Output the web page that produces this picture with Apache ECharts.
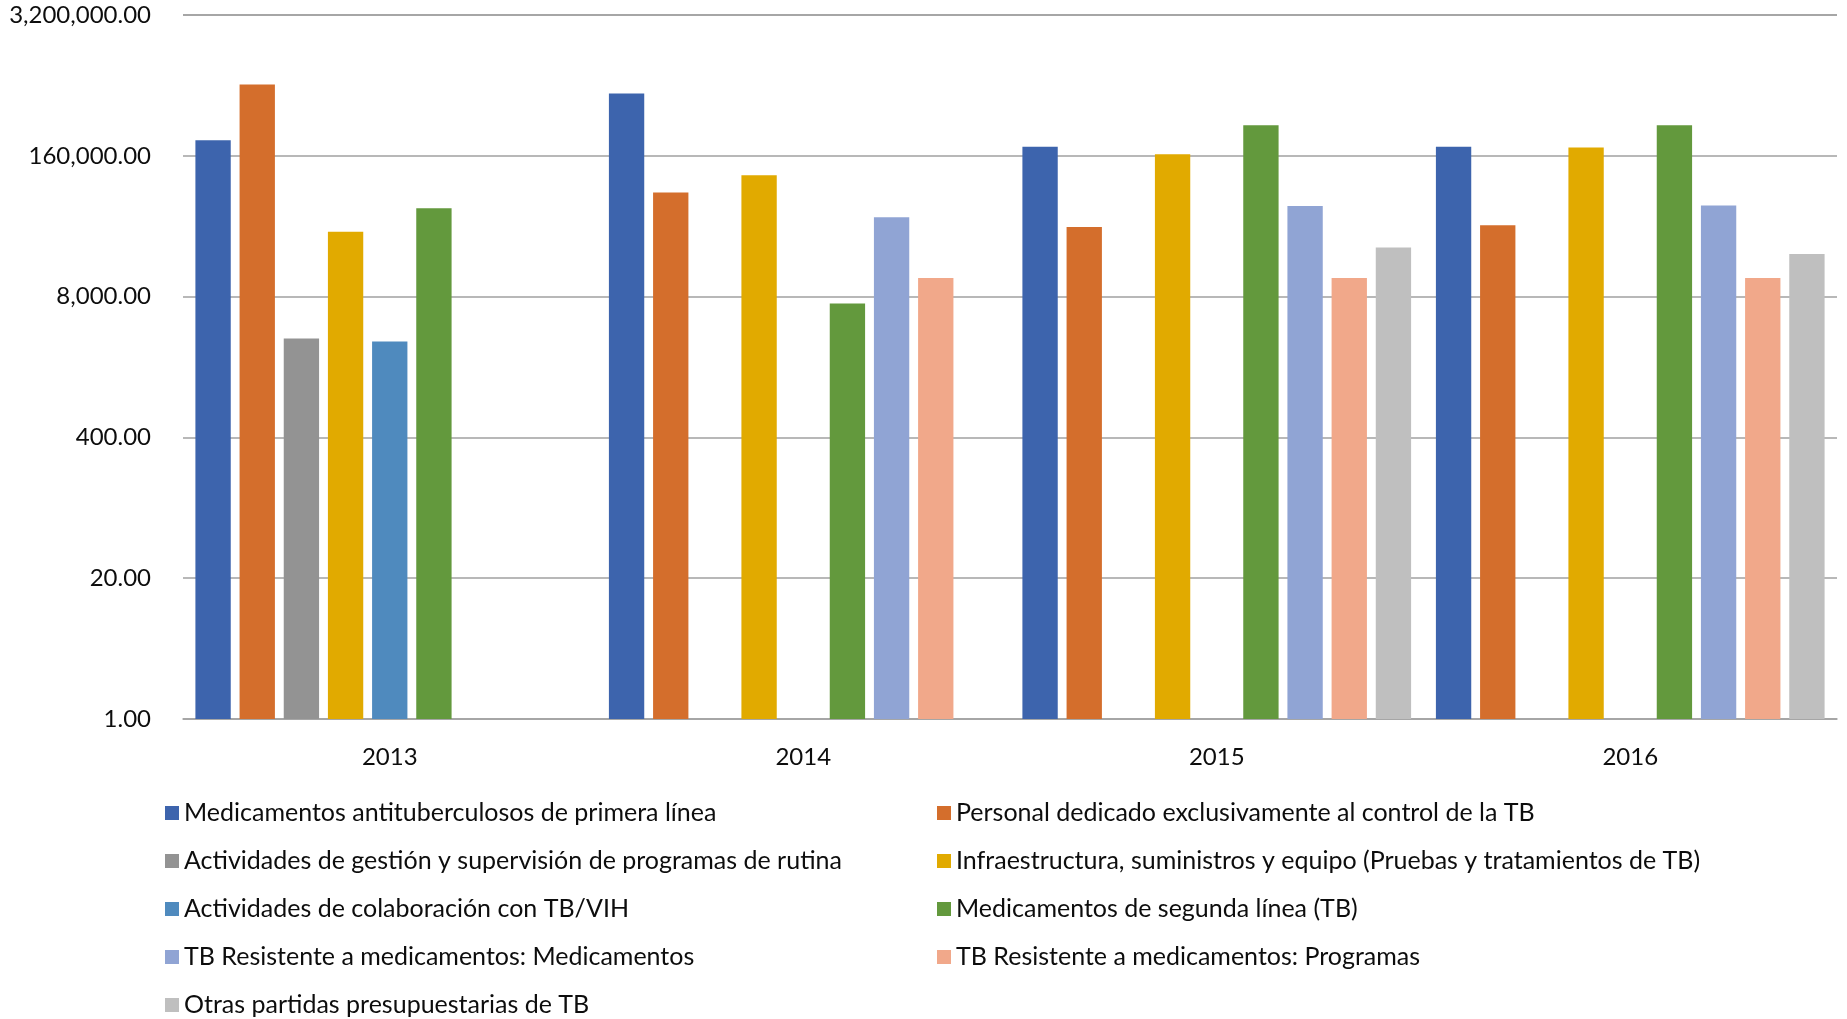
<!DOCTYPE html>
<html>
<head>
<meta charset="utf-8">
<script src="https://cdn.jsdelivr.net/npm/echarts@6/dist/echarts.min.js"></script>
<style>
html,body{margin:0;padding:0;background:#fff;}
#c{width:1847px;height:1019px;}
</style>
</head>
<body>
<div id="c"></div>
<script>
var categories = ['2013', '2014', '2015', '2016'];
var seriesNames = [
  'Medicamentos antituberculosos de primera línea',
  'Personal dedicado exclusivamente al control de la TB',
  'Actividades de gestión y supervisión de programas de rutina',
  'Infraestructura, suministros y equipo (Pruebas y tratamientos de TB)',
  'Actividades de colaboración con TB/VIH',
  'Medicamentos de segunda línea (TB)',
  'TB Resistente a medicamentos: Medicamentos',
  'TB Resistente a medicamentos: Programas',
  'Otras partidas presupuestarias de TB'
];
var primeraLinea   = [223000, 603000, 194000, 194000];
var personal       = [731000, 73400, 35100, 36600];
var gestion        = [3280, null, null, null];
var infraestructura = [31800, 105500, 165000, 191000];
var colaboracion   = [3075, null, null, null];
var segundaLinea   = [52300, 6900, 307000, 307000];
var resMedicamentos = [null, 43200, 54900, 55700];
var resProgramas   = [null, 11900, 11900, 11900];
var otras          = [null, null, 22800, 19800];
var yTicks = [1, 20, 400, 8000, 160000, 3200000];

var colors = ['#3d64ad', '#d46e2c', '#939393', '#e1aa00', '#4f8abe', '#63993d', '#90a4d4', '#f1a88a', '#bfbfbf'];
var allData = [primeraLinea, personal, gestion, infraestructura, colaboracion, segundaLinea, resMedicamentos, resProgramas, otras];

var FONT = 'Lato';
var chart = echarts.init(document.getElementById('c'));
var series = allData.map(function (d, i) {
  return {
    name: seriesNames[i],
    type: 'bar',
    data: d,
    barGap: '25%',
    barCategoryGap: '6%',
    itemStyle: { color: colors[i] }
  };
});

function legendFor(idx, left) {
  return {
    orient: 'vertical',
    left: left,
    top: 795,
    height: 300,
    itemWidth: 14,
    itemHeight: 14,
    itemGap: 22,
    icon: 'rect',
    selectedMode: false,
    data: idx.map(function (i) { return seriesNames[i]; }),
    textStyle: { fontFamily: FONT, fontSize: 25, color: '#0d0d0d', lineHeight: 26 }
  };
}

chart.setOption({
  animation: false,
  color: colors,
  grid: { left: 183, right: 10, top: 15, bottom: 300, containLabel: false },
  legend: [legendFor([0, 2, 4, 6, 8], 160), legendFor([1, 3, 5, 7], 932)],
  xAxis: {
    type: 'category',
    data: categories,
    axisTick: { show: false },
    axisLine: { show: true, lineStyle: { color: '#a0a0a0', width: 1.5 } },
    axisLabel: { fontFamily: FONT, fontSize: 24, color: '#0d0d0d', margin: 26 }
  },
  yAxis: {
    type: 'log',
    logBase: 20,
    min: yTicks[0],
    max: yTicks[yTicks.length - 1],
    splitNumber: 5,
    axisLine: { show: false },
    axisTick: { show: false },
    splitLine: { lineStyle: { color: '#a0a0a0', width: 1.5 } },
    axisLabel: {
      fontFamily: FONT, fontSize: 24, color: '#0d0d0d', margin: 32,
      formatter: function (v) {
        return Number(v).toLocaleString('en-US', { minimumFractionDigits: 2, maximumFractionDigits: 2 });
      }
    }
  },
  series: series
});
</script>
</body>
</html>
